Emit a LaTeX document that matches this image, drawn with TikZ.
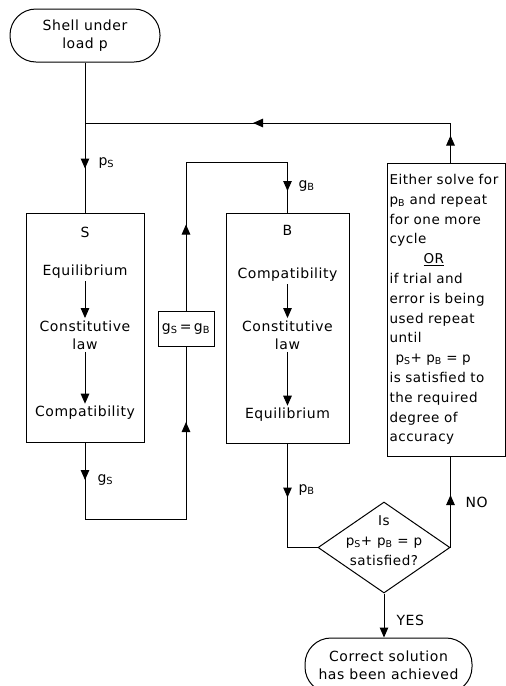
\documentclass[tikz,border=0pt]{standalone}
\usepackage{fontspec}
\setmainfont[LetterSpace=4]{DejaVu Sans}
\usetikzlibrary{arrows.meta,decorations.markings,shapes.geometric}
\newcommand{\mysub}[1]{\textsubscript{#1}}
\begin{document}
\begin{tikzpicture}[x=1pt,y=-1pt,line width=1pt,
  font=\fontsize{14}{18}\selectfont,
  term/.style={draw, rounded corners=26pt, align=center, inner sep=0pt},
  blk/.style={draw, inner sep=0pt},
  txt/.style={align=center, inner sep=2pt},
  lbl/.style={anchor=west, inner sep=0pt},
  tip/.style={-{Triangle[length=10pt,width=8.5pt]}},
  ma/.style={postaction={decorate}, decoration={markings,
     mark=at position #1 with {\arrow{Triangle[length=10pt,width=8.5pt]}}}},
  ma2/.style 2 args={postaction={decorate}, decoration={markings,
     mark=at position #1 with {\arrow{Triangle[length=10pt,width=8.5pt]}},
     mark=at position #2 with {\arrow{Triangle[length=10pt,width=8.5pt]}}}}]
\clip (0,0) rectangle (506,686);

% terminals
\node[term, minimum width=150pt, minimum height=53pt] (start) at (85,35.5) {Shell under\\load p};
\node[term, minimum width=167pt, minimum height=55pt] (end) at (388.5,665.5) {Correct solution\\has been achieved};

% S box
\node[blk, minimum width=118pt, minimum height=229pt] (S) at (85,327.5) {};
\node[txt] (sS) at (85,232) {S};
\node[txt] (sEq) at (85,272) {Equilibrium};
\node[txt] (sCon) at (85,335) {Constitutive\\law};
\node[txt] (sCom) at (85,413) {Compatibility};
\draw[tip] (sEq.south) -- (sCon.north);
\draw[tip] (sCon.south) -- (sCom.north);

% B box
\node[blk, minimum width=123pt, minimum height=230pt] (B) at (287.5,328) {};
\node[txt] (bB) at (287.5,230) {B};
\node[txt] (bCom) at (287.5,275) {Compatibility};
\node[txt] (bCon) at (287.5,335) {Constitutive\\law};
\node[txt] (bEq) at (287.5,415) {Equilibrium};
\draw[tip] (bCom.south) -- (bCon.north);
\draw[tip] (bCon.south) -- (bEq.north);

% equality box
\node[draw, fill=white, inner sep=1pt, minimum width=56pt, minimum height=35pt] (eq) at (186,329) {g\mysub{S}\,=\,g\mysub{B}};

% right box
\node[draw, align=left, text width=113pt, inner xsep=2.5pt, inner ysep=0pt,
      minimum height=293pt, font=\fontsize{13.5}{19.8}\selectfont] (R) at (446,309.5)
{Either solve for\\
p\mysub{B} and repeat\\
for one more\\
cycle\\
\hspace*{34pt}\underline{OR}\\
if trial and\\
error is being\\
used repeat\\
until\\
\hspace*{6pt}p\mysub{S}+ p\mysub{B} = p\\
is satisfied to\\
the required\\
degree of\\
accuracy};

% decision
\node[draw, diamond, minimum width=132pt, minimum height=91pt, inner sep=0pt] (dia) at (384,547.5) {};
\node[txt, font=\fontsize{13.5}{20}\selectfont] (diat) at (384,541) {Is\\p\mysub{S}+ p\mysub{B} = p\\satisfied?};

% coordinates
\coordinate (J) at (85,123);
\coordinate (sb) at (85,519.5);
\coordinate (tb) at (186,162);

% connectors
\draw[ma=106pt] (start.south) -- (S.north);
\draw[ma2={37.5pt}{275.5pt}] (S.south) -- (sb) -| (eq.south);
\draw[ma2={86.5pt}{279.5pt}] (eq.north) -- (tb) -| (B.north);
\draw[ma=54pt] (B.south) |- (dia.west);
\draw[ma=52.5pt] (dia.east) -- (dia.east |- R.south);
\draw[ma2={27pt}{237pt}] (dia.east |- R.north) |- (J);
\draw[tip] (dia.south) -- (dia.south |- end.north);

% labels
\node[lbl] (lps) at (98,163) {p\mysub{S}};
\node[lbl] (lgs) at (97,480) {g\mysub{S}};
\node[lbl] (lgb) at (298,186) {g\mysub{B}};
\node[lbl] (lpb) at (298,490) {p\mysub{B}};
\node[lbl] (lno) at (465,502) {NO};
\node[lbl] (lyes) at (396,620) {YES};
\end{tikzpicture}
\end{document}
